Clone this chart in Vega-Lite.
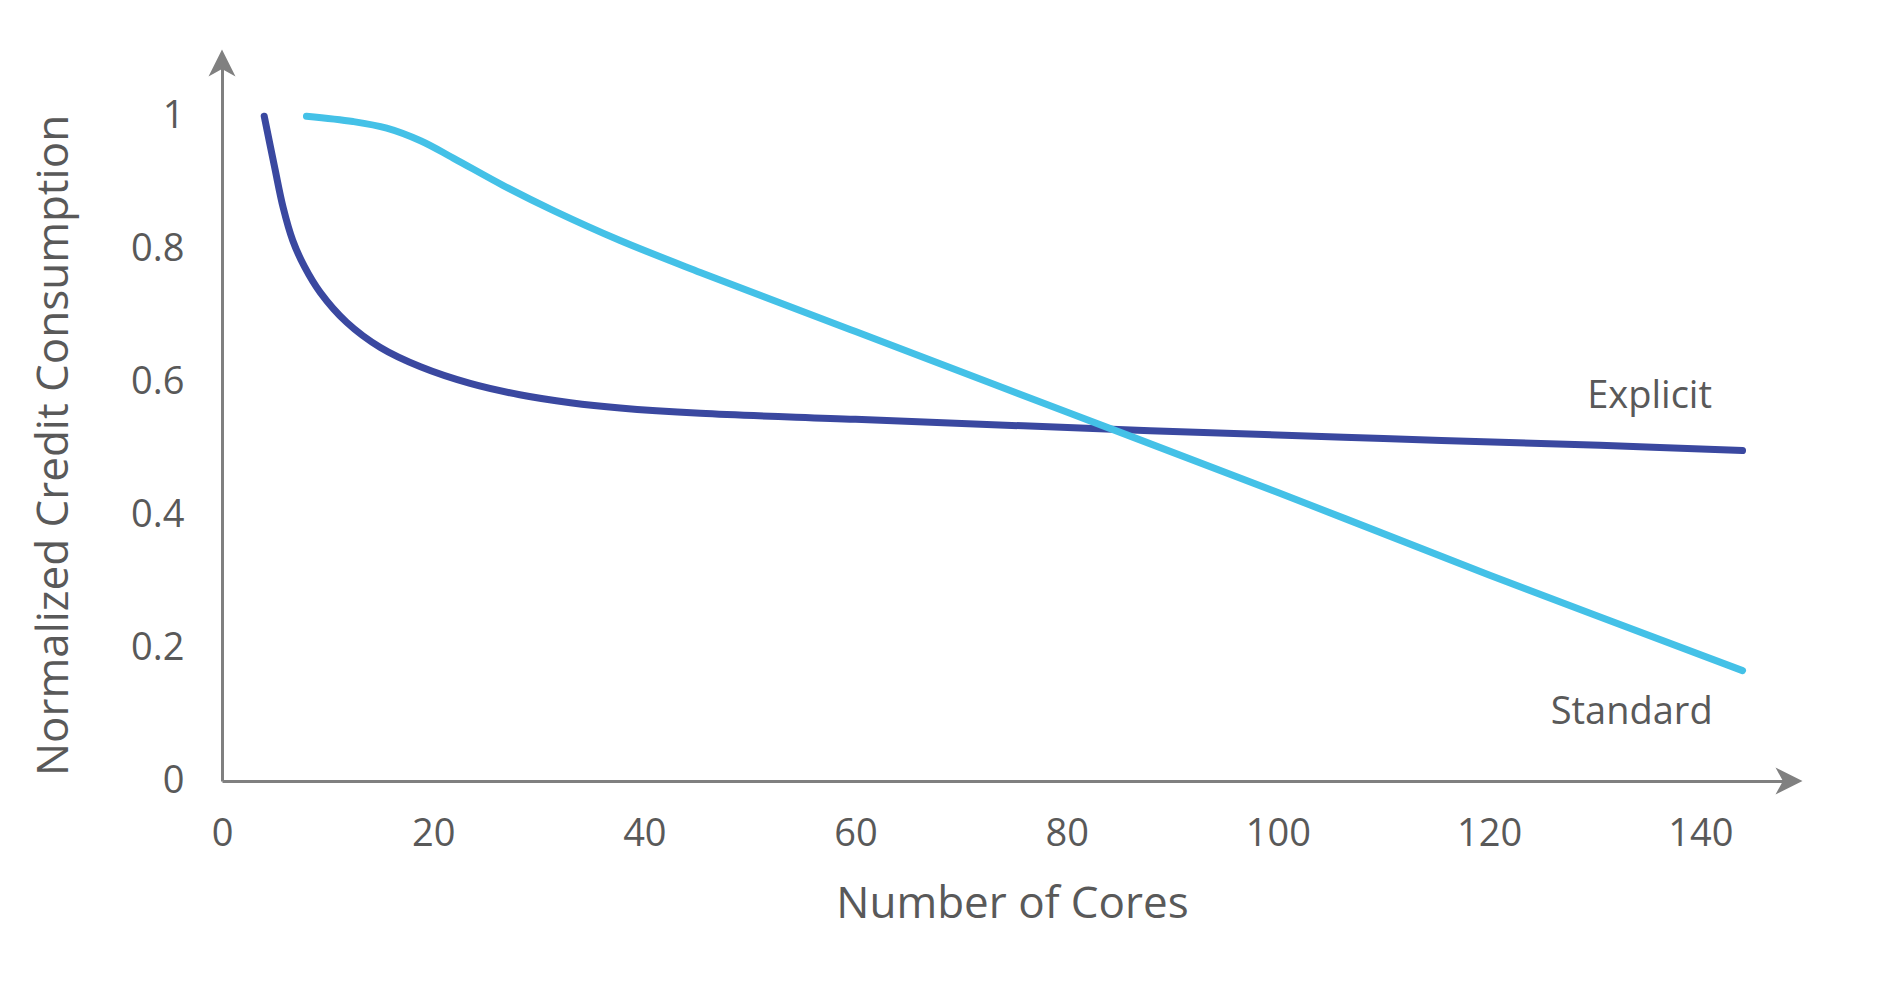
{
  "$schema": "https://vega.github.io/schema/vega-lite/v6.json",
  "autosize": {"type": "none"},
  "padding": {"left": 222, "top": 63, "right": 95, "bottom": 209},
  "width": 1567,
  "height": 718,
  "background": "white",
  "config": {
    "view": {"stroke": null},
    "font": "Open Sans"
  },
  "datasets": {
    "curves": [
      {"cores": 4, "value": 1.0, "series": "Explicit"},
      {"cores": 5, "value": 0.922, "series": "Explicit"},
      {"cores": 5.8, "value": 0.862, "series": "Explicit"},
      {"cores": 6.7, "value": 0.813, "series": "Explicit"},
      {"cores": 7.8, "value": 0.774, "series": "Explicit"},
      {"cores": 9.3, "value": 0.735, "series": "Explicit"},
      {"cores": 11.8, "value": 0.69, "series": "Explicit"},
      {"cores": 15, "value": 0.652, "series": "Explicit"},
      {"cores": 18.8, "value": 0.623, "series": "Explicit"},
      {"cores": 23.5, "value": 0.598, "series": "Explicit"},
      {"cores": 28.2, "value": 0.581, "series": "Explicit"},
      {"cores": 33, "value": 0.569, "series": "Explicit"},
      {"cores": 37.7, "value": 0.561, "series": "Explicit"},
      {"cores": 45.3, "value": 0.553, "series": "Explicit"},
      {"cores": 60, "value": 0.544, "series": "Explicit"},
      {"cores": 87.9, "value": 0.527, "series": "Explicit"},
      {"cores": 110, "value": 0.515, "series": "Explicit"},
      {"cores": 130.5, "value": 0.505, "series": "Explicit"},
      {"cores": 144, "value": 0.497, "series": "Explicit"},
      {"cores": 8, "value": 1.0, "series": "Standard"},
      {"cores": 12.4, "value": 0.992, "series": "Standard"},
      {"cores": 15.6, "value": 0.982, "series": "Standard"},
      {"cores": 18.8, "value": 0.963, "series": "Standard"},
      {"cores": 21.9, "value": 0.937, "series": "Standard"},
      {"cores": 26.6, "value": 0.896, "series": "Standard"},
      {"cores": 31.4, "value": 0.858, "series": "Standard"},
      {"cores": 37.7, "value": 0.813, "series": "Standard"},
      {"cores": 45.3, "value": 0.765, "series": "Standard"},
      {"cores": 60, "value": 0.676, "series": "Standard"},
      {"cores": 80, "value": 0.555, "series": "Standard"},
      {"cores": 100, "value": 0.434, "series": "Standard"},
      {"cores": 120, "value": 0.31, "series": "Standard"},
      {"cores": 144, "value": 0.166, "series": "Standard"}
    ],
    "labels": [
      {"cores": 135.2, "value": 0.578, "label": "Explicit"},
      {"cores": 133.5, "value": 0.103, "label": "Standard"}
    ],
    "arrowTop": [{"cores": 0, "value": 1.08}],
    "arrowRight": [{"cores": 148.4, "value": 0}]
  },
  "layer": [
    {
      "data": {"name": "curves"},
      "mark": {"type": "line", "strokeWidth": 7, "strokeCap": "round", "strokeJoin": "round", "interpolate": "catmull-rom"},
      "encoding": {
        "x": {
          "field": "cores", "type": "quantitative",
          "scale": {"domain": [0, 148.4], "nice": false, "zero": true},
          "axis": {
            "title": "Number of Cores",
            "values": [0, 20, 40, 60, 80, 100, 120, 140],
            "domain": true, "domainColor": "#808080", "domainWidth": 3,
            "ticks": false, "grid": false,
            "labelFont": "Open Sans", "labelFontSize": 38, "labelColor": "#595959", "labelPadding": 34,
            "labelFlush": false,
            "titleFont": "Open Sans", "titleFontSize": 44, "titleFontWeight": "normal", "titleColor": "#595959",
            "titleX": 790, "titleY": 123, "titleBaseline": "middle", "titleAlign": "center"
          }
        },
        "y": {
          "field": "value", "type": "quantitative",
          "scale": {"domain": [0, 1.08], "nice": false},
          "axis": {
            "title": "Normalized Credit Consumption",
            "values": [0, 0.2, 0.4, 0.6, 0.8, 1],
            "format": "~g",
            "domain": true, "domainColor": "#808080", "domainWidth": 3,
            "ticks": false, "grid": false,
            "labelFont": "Open Sans", "labelFontSize": 38, "labelColor": "#595959", "labelPadding": 38,
            "labelFlush": false,
            "titleFont": "Open Sans", "titleFontSize": 44, "titleFontWeight": "normal", "titleColor": "#595959",
            "titleAngle": -90, "titleX": -168, "titleY": 382, "titleBaseline": "middle", "titleAlign": "center"
          }
        },
        "color": {
          "field": "series", "type": "nominal",
          "scale": {"domain": ["Explicit", "Standard"], "range": ["#3A48A0", "#44C1E7"]},
          "legend": null
        }
      }
    },
    {
      "data": {"name": "arrowTop"},
      "mark": {"type": "point", "shape": "M0,-1 L1,1 L0,0.45 L-1,1 Z", "filled": true, "color": "#808080", "opacity": 1, "size": 729, "strokeWidth": 0},
      "encoding": {
        "x": {"field": "cores", "type": "quantitative"},
        "y": {"field": "value", "type": "quantitative"}
      }
    },
    {
      "data": {"name": "arrowRight"},
      "mark": {"type": "point", "shape": "M1,0 L-1,-1 L-0.45,0 L-1,1 Z", "filled": true, "color": "#808080", "opacity": 1, "size": 729, "strokeWidth": 0},
      "encoding": {
        "x": {"field": "cores", "type": "quantitative"},
        "y": {"field": "value", "type": "quantitative"}
      }
    },
    {
      "data": {"name": "labels"},
      "mark": {"type": "text", "font": "Open Sans", "fontSize": 38, "color": "#595959", "align": "center", "baseline": "middle"},
      "encoding": {
        "x": {"field": "cores", "type": "quantitative"},
        "y": {"field": "value", "type": "quantitative"},
        "text": {"field": "label"}
      }
    }
  ]
}
